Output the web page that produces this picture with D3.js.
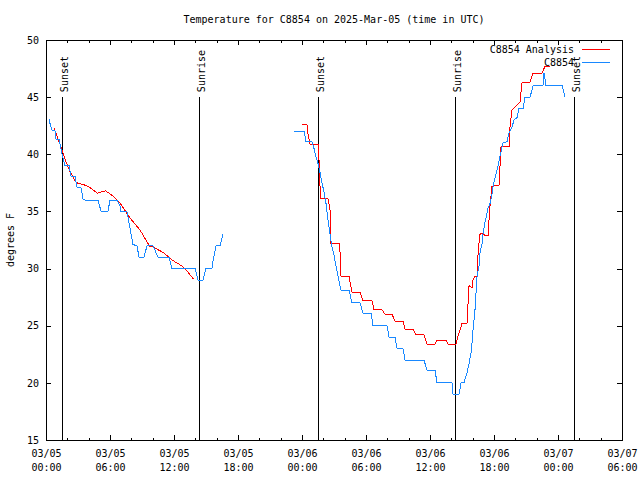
<!DOCTYPE html>
<html><head><meta charset="utf-8">
<script src="https://cdn.jsdelivr.net/npm/d3@7"></script>
<style>
body{margin:0;background:#fff;}
svg text{font-family:"DejaVu Sans Mono","Liberation Mono",monospace;font-size:10px;fill:#000;}
</style></head><body>
<svg id="c" width="640" height="480"></svg>
<script>
// ---- data (hours since 2025-03-05 00:00 UTC) ----
const titleText = "Temperature for C8854 on 2025-Mar-05 (time in UTC)";
const yLabel = "degrees F";
const yTicks = [15, 20, 25, 30, 35, 40, 45, 50];
const sunsetHours = [1.52, 25.53, 49.53];
const sunriseHours = [14.37, 38.37];

const obsHours = [0.28,0.375,0.56,0.84,0.94,1.22,1.31,1.5,1.78,2.16,2.34,2.72,2.91,3.28,3.47,3.66,4.88,5.16,5.81,6.0,6.66,6.94,7.03,7.59,7.78,8.16,8.53,8.72,9.19,9.47,10.03,10.5,11.53,11.81,13.97,14.25,14.72,15.0,15.56,15.66,15.94,16.31,16.59,
  null,
  23.25,24.19,24.38,24.94,25.13,25.31,25.5,25.69,25.88,26.06,26.25,26.44,26.63,26.81,27.0,27.19,27.38,27.66,28.41,28.69,29.44,29.72,30.47,30.66,31.97,32.16,32.72,32.91,33.47,33.66,35.44,35.72,36.47,36.66,38.06,38.16,38.72,38.91,39.19,39.47,39.66,39.84,39.94,40.03,40.22,40.31,40.41,40.59,40.69,40.88,40.97,41.16,41.34,41.44,41.63,41.81,41.91,42.28,42.56,42.84,43.22,43.41,43.69,43.88,44.16,44.34,44.72,44.91,45.38,45.66,46.59,46.69,46.88,48.38,48.47,48.66];
const obsTemps = [43.1,42.7,42.1,42.1,41.3,41.3,40.9,40.0,39.0,39.0,38.1,38.1,37.1,37.1,36.1,36.0,36.0,35.0,35.0,36.0,36.0,35.5,35.0,35.0,34.0,32.1,32.0,31.0,31.0,32.0,32.0,31.0,31.0,30.0,30.0,29.0,29.0,30.0,30.0,30.7,32.0,32.0,33.0,
  null,
  42.0,42.0,41.1,41.1,40.5,39.8,39.2,38.4,37.5,36.7,35.7,34.2,33.0,31.9,31.2,30.2,29.3,28.1,28.1,27.0,27.0,26.1,26.1,25.0,25.0,24.0,24.0,23.0,23.0,22.0,22.0,21.1,21.1,20.0,20.0,19.0,19.0,20.0,20.0,20.9,21.7,22.6,23.5,24.6,26.4,27.8,29.3,30.2,31.4,32.2,33.0,34.1,34.8,35.3,35.7,36.5,37.2,38.6,39.8,41.0,41.1,41.9,42.4,43.0,43.2,44.0,44.0,45.0,45.0,46.0,46.0,47.1,46.0,46.0,45.7,45.0];

const anaHours = [0.75,1.5,1.8,2.25,2.7,2.9,3.65,4.1,4.8,5.6,6.2,6.9,7.9,8.8,9.75,10.0,11.0,11.9,12.8,13.3,13.8,
  null,
  24.0,24.47,24.56,24.75,25.5,25.59,25.69,25.78,26.44,26.63,26.72,27.47,27.56,27.66,28.41,28.69,29.44,29.72,30.56,30.75,31.5,31.78,32.44,32.72,33.47,33.66,34.41,34.69,35.44,35.72,36.47,36.66,37.5,37.69,38.44,38.63,38.91,39.0,39.47,39.56,39.66,39.94,40.03,40.22,40.41,40.5,40.59,40.69,40.88,41.16,41.44,41.53,41.63,41.81,42.47,42.66,43.41,43.5,43.69,44.44,44.63,45.38,45.66,46.5,46.78,47.25];
const anaTemps = [42.3,40.4,39.5,38.5,37.7,37.5,37.3,37.1,36.6,36.8,36.4,35.8,34.4,33.4,31.9,31.9,31.4,30.7,30.2,29.7,29.1,
  null,
  42.6,42.6,41.8,40.9,40.9,39.6,37.2,36.1,36.1,35.1,32.2,32.2,31.5,29.3,29.3,27.9,27.9,27.2,27.2,26.4,26.4,26.0,26.0,25.4,25.4,24.7,24.7,24.2,24.2,23.4,23.4,23.75,23.75,23.4,23.4,24.1,24.9,25.2,25.2,26.8,28.5,28.3,29.0,29.3,29.3,31.2,32.2,33.0,33.1,32.9,32.9,34.2,35.5,37.2,37.3,40.7,40.7,42.4,43.9,44.6,46.3,46.3,47.1,47.1,47.7,47.7];

const seriesNames = ["C8854 Analysis", "C8854"];
const seriesColors = ["#ff0000", "#1888ff"];

// ---- drawing ----
const H = 3600e3;
const t0 = Date.UTC(2025, 2, 5, 0, 0);
const toDate = h => new Date(t0 + h * H);
const L = 46, R = 622, T = 40, B = 440;
const x = d3.scaleUtc().domain([toDate(0), toDate(54)]).range([L, R]);
const y = d3.scaleLinear().domain([15, 50]).range([B, T]);
const svg = d3.select("#c");

const majorT = d3.range(0, 55, 6).map(toDate);
const minorT = d3.range(0, 55, 2).filter(h => h % 6 !== 0).map(toDate);
const fmtD = d3.utcFormat("%m/%d"), fmtT = d3.utcFormat("%H:%M");

// bottom major with labels
const gb = svg.append("g").attr("transform", `translate(0,${B})`)
  .call(d3.axisBottom(x).tickValues(majorT).tickSizeInner(-5).tickSizeOuter(0).tickPadding(10).tickFormat(""));
gb.selectAll(".tick text").each(function(d){
  const t = d3.select(this).attr("dy", null).attr("y", 17);
  t.append("tspan").attr("x", 0).attr("y", 17).text(fmtD(d));
  t.append("tspan").attr("x", 0).attr("y", 31).text(fmtT(d));
});
svg.append("g").attr("transform", `translate(0,${B})`)
  .call(d3.axisBottom(x).tickValues(minorT).tickSizeInner(-2.5).tickSizeOuter(0).tickFormat(""));
svg.append("g").attr("transform", `translate(0,${T})`)
  .call(d3.axisTop(x).tickValues(majorT).tickSizeInner(-5).tickSizeOuter(0).tickFormat(""));
svg.append("g").attr("transform", `translate(0,${T})`)
  .call(d3.axisTop(x).tickValues(minorT).tickSizeInner(-2.5).tickSizeOuter(0).tickFormat(""));
svg.append("g").attr("transform", `translate(${L},0)`)
  .call(d3.axisLeft(y).tickValues(yTicks).tickSizeInner(-5).tickSizeOuter(0).tickPadding(7));
svg.append("g").attr("transform", `translate(${R},0)`)
  .call(d3.axisRight(y).tickValues(yTicks).tickSizeInner(-5).tickSizeOuter(0).tickFormat(""));
svg.selectAll(".domain").remove();
svg.selectAll(".tick line").attr("stroke", "#000").attr("shape-rendering", "crispEdges");
svg.selectAll("g text").attr("font-family", null).attr("font-size", null).attr("fill", null);

svg.append("rect").attr("x", L).attr("y", T).attr("width", R - L).attr("height", B - T)
  .attr("fill", "none").attr("stroke", "#000").attr("shape-rendering", "crispEdges");

// title & y label
svg.append("text").attr("x", (L + R) / 2).attr("y", 23).attr("text-anchor", "middle").text(titleText);
svg.append("text").attr("transform", "translate(14,240) rotate(-90)").attr("text-anchor", "middle").text(yLabel);

// sunrise / sunset markers
const marks = sunsetHours.map(h => ({h, label: "Sunset"})).concat(sunriseHours.map(h => ({h, label: "Sunrise"})));
marks.forEach(m => {
  const xx = Math.round(x(toDate(m.h))) + 0.5;
  svg.append("line").attr("x1", xx).attr("x2", xx).attr("y1", y(45)).attr("y2", B)
    .attr("stroke", "#000").attr("shape-rendering", "crispEdges");
  svg.append("text").attr("transform", `translate(${xx + 5.5},${y(45) - 5}) rotate(-90)`).text(m.label);
});

// series lines
function drawSeries(hours, temps, color) {
  const pts = hours.map((h, i) => h === null ? null : [h, temps[i]]);
  const line = d3.line().defined(d => d !== null).x(d => x(toDate(d[0]))).y(d => y(d[1]));
  svg.append("path").datum(pts).attr("d", line).attr("fill", "none")
    .attr("stroke", color).attr("stroke-width", 1).attr("shape-rendering", "crispEdges");
}
drawSeries(anaHours, anaTemps, seriesColors[0]);
drawSeries(obsHours, obsTemps, seriesColors[1]);

// legend
seriesNames.forEach((name, i) => {
  const yy = 49.5 + i * 13;
  svg.append("text").attr("x", 574).attr("y", yy).attr("dy", "0.35em").attr("text-anchor", "end").text(name);
  svg.append("line").attr("x1", 582).attr("x2", 610).attr("y1", yy).attr("y2", yy)
    .attr("stroke", seriesColors[i]).attr("stroke-width", 1).attr("shape-rendering", "crispEdges");
});
</script>
</body></html>
